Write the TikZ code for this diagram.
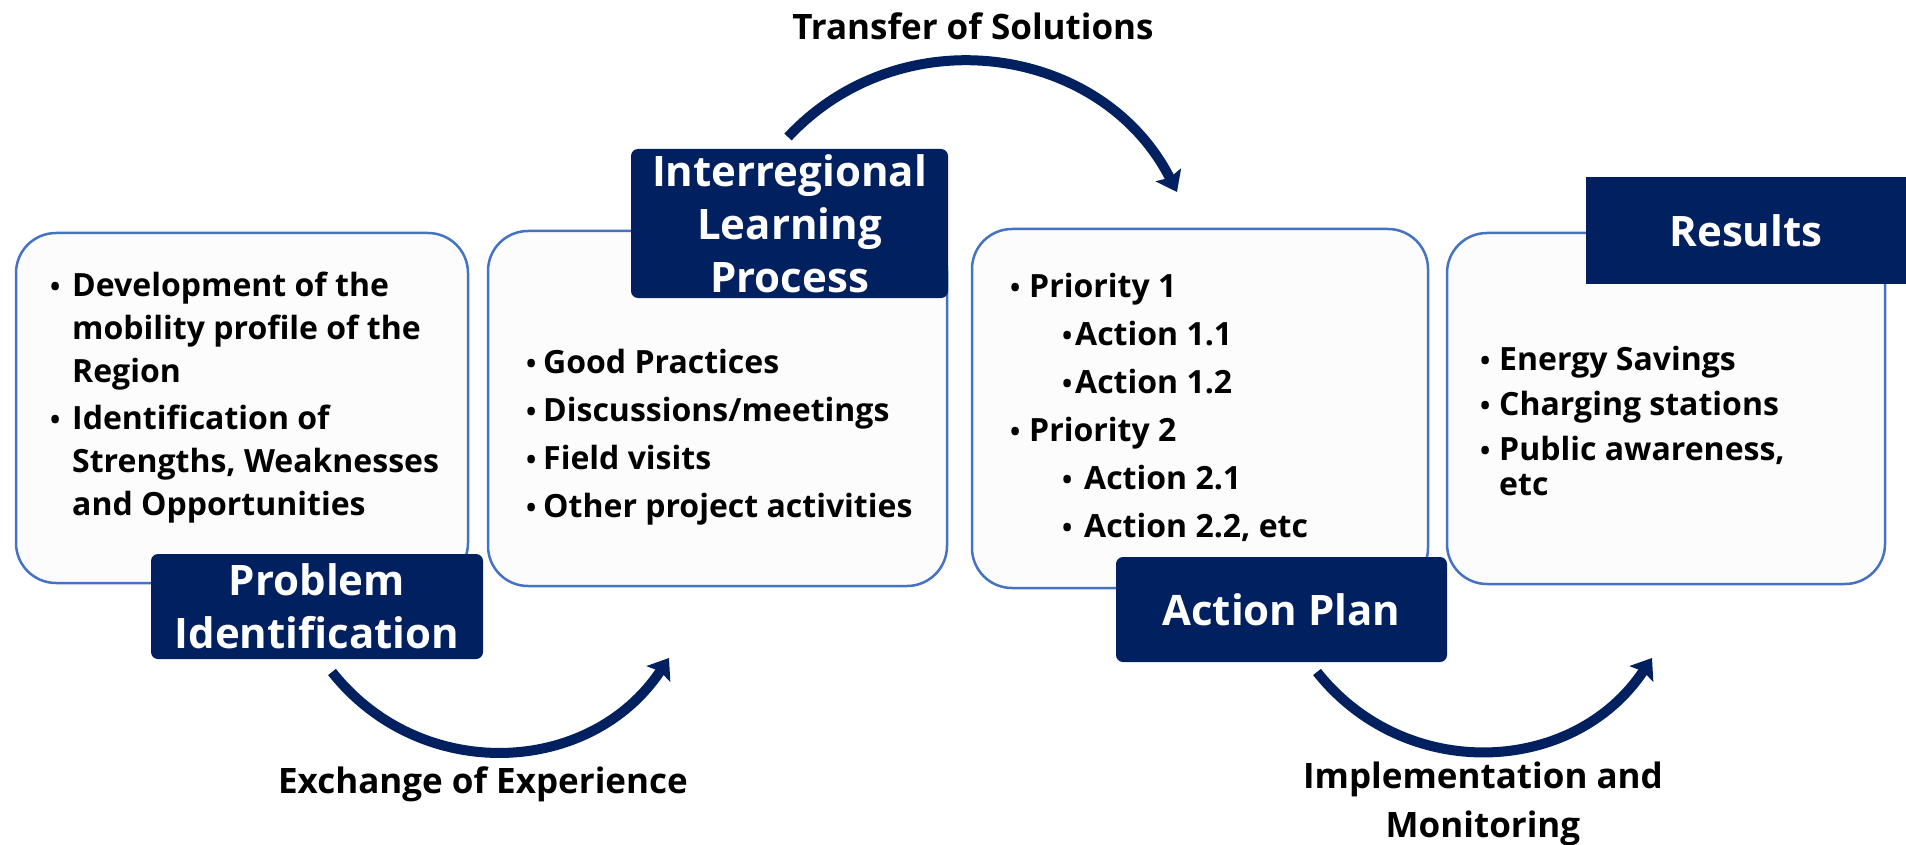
\documentclass[tikz,border=0pt]{standalone}
\usepackage{fontspec}
\setmainfont{Open Sans}
\usetikzlibrary{arrows.meta,shapes}

\definecolor{navy}{HTML}{002060}
\definecolor{boxline}{HTML}{4472C4}
\definecolor{boxfill}{HTML}{FCFCFC}

\newcommand{\itm}[1][17pt]{\makebox[#1][l]{\hspace*{-2pt}\scalebox{0.85}{\textbullet}}}
\newcommand{\cnt}[1][17pt]{\hspace*{#1}}

\begin{document}
\begin{tikzpicture}[x=1pt,y=-1pt,
>={Stealth[length=19pt,width=28pt,inset=3pt]},
whitebox/.style={rectangle,draw=boxline,line width=2.5pt,fill=boxfill,rounded corners=40pt,inner sep=0pt},
tagbox/.style={rectangle,fill=navy,text=white,rounded corners=7pt,inner sep=0pt,align=center,font=\fontsize{42}{53}\selectfont\bfseries},
itemtext/.style={anchor=base west,inner sep=0pt,align=left,font=\fontsize{32}{48}\selectfont\bfseries},
captext/.style={anchor=base,inner sep=0pt,align=center,font=\fontsize{35}{49}\selectfont\bfseries},
flow/.style={->,draw=navy,line width=10pt,looseness=1.08}]

\useasboundingbox (0,0) rectangle (1906,845);

% the four stages
\node[whitebox,minimum width=452pt,minimum height=350pt] (probbox) at (242,408) {};
\node[whitebox,minimum width=459pt,minimum height=355pt] (learnbox) at (717.5,408.5) {};
\node[whitebox,minimum width=456pt,minimum height=359pt] (planbox) at (1200,408.5) {};
\node[whitebox,minimum width=438pt,minimum height=351pt] (resbox) at (1666,408.5) {};

\node[tagbox,minimum width=332pt,minimum height=105pt] (problabel) at (317,606.5) {Problem\\Identification};
\node[tagbox,minimum width=317pt,minimum height=149pt] (learnlabel) at (789.5,223.5) {Interregional\\Learning\\Process};
\node[tagbox,minimum width=331pt,minimum height=105pt] (planlabel) at (1281.5,609.5) {Action Plan};
\node[tagbox,sharp corners,minimum width=320pt,minimum height=107pt] (reslabel) at (1746,230.5) {Results};

% contents (placed by the baseline of their last line)
\node[itemtext,font=\fontsize{32}{43}\selectfont\bfseries] (probtext) at (52,515)
{\itm[20pt]Development of the\\ \cnt[20pt]mobility profile of the\\ \cnt[20pt]Region\\[4pt]
\itm[20pt]Identification of\\ \cnt[20pt]Strengths, Weaknesses\\ \cnt[20pt]and Opportunities};
\node[itemtext] (learntext) at (528,517)
{\itm[15pt]Good Practices\\ \itm[15pt]Discussions/meetings\\ \itm[15pt]Field visits\\ \itm[15pt]Other project activities};
\node[itemtext] (plantext) at (1012,537)
{\itm Priority 1\\ \cnt[52pt]\itm[11pt]Action 1.1\\ \cnt[52pt]\itm[11pt]Action 1.2\\
\itm Priority 2\\ \cnt[52pt]\itm[20pt]Action 2.1\\ \cnt[52pt]\itm[20pt]Action 2.2, etc};
\node[itemtext,font=\fontsize{32}{45}\selectfont\bfseries] (restext) at (1482,495)
{\itm Energy Savings\\ \itm Charging stations\\ \itm Public awareness,\\[-10pt] \cnt etc};

% arrows between stages
\coordinate (exs) at (332,672);
\coordinate (exe) at (669,658);
\coordinate (trs) at (788,137);
\coordinate (tre) at (1177,192);
\coordinate (ims) at (1317,672);
\coordinate (ime) at (1652,658);
\draw[flow] (exs) to[bend right=54] (exe);
\draw[flow] (trs) to[bend left=55] (tre);
\draw[flow] (ims) to[bend right=54] (ime);

\node[captext] (exlabel) at (483,793) {Exchange of Experience};
\node[captext] (trlabel) at (973,40) {Transfer of Solutions};
\node[captext] (imlabel) at (1483,837) {Implementation and\\Monitoring};
\end{tikzpicture}
\end{document}
